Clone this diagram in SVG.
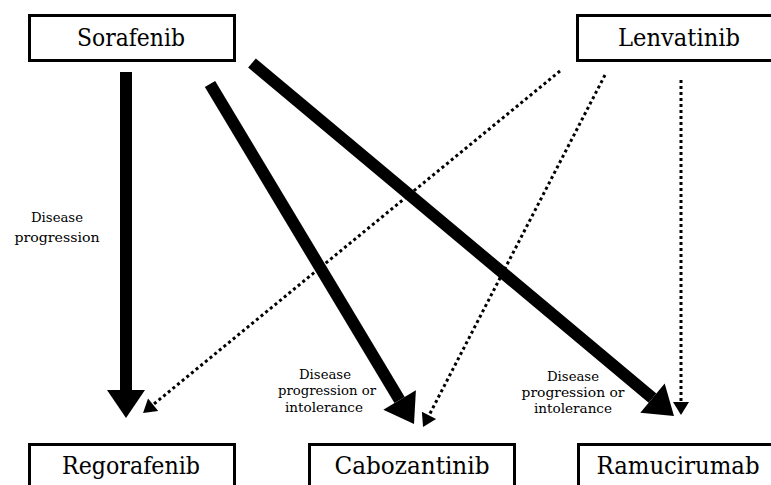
<svg xmlns="http://www.w3.org/2000/svg" width="771" height="485" viewBox="0 0 771 485">
<style>
.box{fill:#fff;stroke:#000;stroke-width:3}
.thick{fill:none;stroke:#000;stroke-width:12}
.dot{fill:none;stroke:#000;stroke-width:3;stroke-dasharray:3 3}
.f{font-family:"DejaVu Serif","Liberation Serif",serif;fill:#000;text-anchor:middle}
</style>
<defs>
<marker id="bigHead" markerUnits="userSpaceOnUse" viewBox="0 0 28 38" markerWidth="28" markerHeight="38" refX="0" refY="19" orient="auto" overflow="visible">
<path d="M0,0 L28,19 L0,38 Z" fill="#000"/>
</marker>
<marker id="smallHead" markerUnits="userSpaceOnUse" viewBox="0 0 13 16" markerWidth="13" markerHeight="16" refX="0" refY="8" orient="auto" overflow="visible">
<path d="M0,0 L13,8 L0,16 Z" fill="#000"/>
</marker>
</defs>
<rect width="771" height="485" fill="#fff"/>
<g id="connectors">
<path class="thick" d="M126,72 L126,390" marker-end="url(#bigHead)"/>
<path class="thick" d="M210,84 L399.6,400" marker-end="url(#bigHead)"/>
<path class="thick" d="M252,63 L652.5,398.1" marker-end="url(#bigHead)"/>
<path class="dot" d="M560,71 L153.1,404.7" marker-end="url(#smallHead)"/>
<path class="dot" d="M605,75 L429,415.4" marker-end="url(#smallHead)"/>
<path class="dot" d="M681,80 L681,402" marker-end="url(#smallHead)"/>
</g>
<g id="labels" class="f" font-size="13">
<text x="57" y="222" textLength="52" lengthAdjust="spacingAndGlyphs">Disease</text>
<text x="57" y="242" textLength="85" lengthAdjust="spacingAndGlyphs">progression</text>
<text x="325" y="379" textLength="52" lengthAdjust="spacingAndGlyphs">Disease</text>
<text x="327" y="395" textLength="98" lengthAdjust="spacingAndGlyphs">progression or</text>
<text x="324" y="412" textLength="78" lengthAdjust="spacingAndGlyphs">intolerance</text>
<text x="573" y="381" textLength="52" lengthAdjust="spacingAndGlyphs">Disease</text>
<text x="573" y="397" textLength="103" lengthAdjust="spacingAndGlyphs">progression or</text>
<text x="573" y="413" textLength="78" lengthAdjust="spacingAndGlyphs">intolerance</text>
</g>
<g class="f" font-size="24">
<g id="sorafenib">
<rect class="box" x="29.5" y="15.5" width="205" height="45"/>
<text x="131" y="46" textLength="108" lengthAdjust="spacingAndGlyphs">Sorafenib</text>
</g>
<g id="lenvatinib">
<rect class="box" x="577.5" y="15.5" width="210" height="45"/>
<text x="679" y="46" textLength="122" lengthAdjust="spacingAndGlyphs">Lenvatinib</text>
</g>
<g id="regorafenib">
<rect class="box" x="29.5" y="444.5" width="205" height="60"/>
<text x="131" y="474" textLength="138" lengthAdjust="spacingAndGlyphs">Regorafenib</text>
</g>
<g id="cabozantinib">
<rect class="box" x="309.5" y="444.5" width="205" height="60"/>
<text x="412" y="474" textLength="155" lengthAdjust="spacingAndGlyphs">Cabozantinib</text>
</g>
<g id="ramucirumab">
<rect class="box" x="578.5" y="444.5" width="210" height="60"/>
<text x="678" y="474" textLength="163" lengthAdjust="spacingAndGlyphs">Ramucirumab</text>
</g>
</g>
</svg>
